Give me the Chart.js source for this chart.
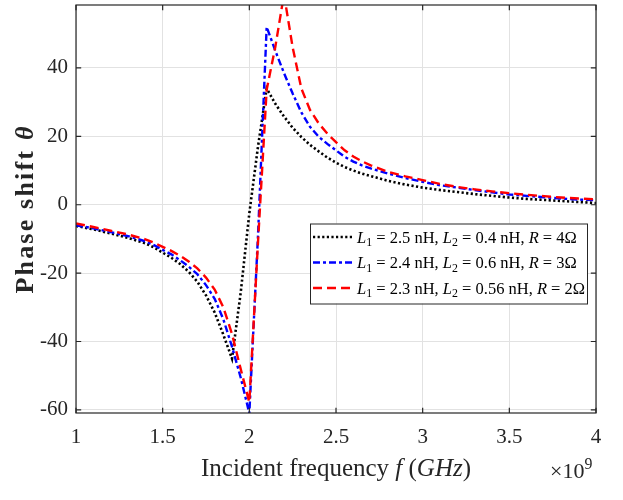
<!DOCTYPE html>
<html><head><meta charset="utf-8">
<script src="https://cdn.jsdelivr.net/npm/chart.js@4.4.1/dist/chart.umd.min.js"></script>
<style>html,body{margin:0;padding:0;background:#fff;}#wrap{width:623px;height:500px;}</style>
</head><body><div id="wrap"><canvas id="c" width="623" height="500"></canvas></div>
<script>
// ---- data ----
const freqs = [1.0,1.1,1.2,1.3,1.4,1.45,1.5,1.55,1.6,1.65,1.7,1.75,1.8,1.85,1.9,1.95,
  2.0,2.05,2.1,2.15,2.2,2.25,2.3,2.35,2.4,2.45,2.5,2.55,2.6,2.65,2.7,
  2.8,2.9,3.0,3.1,3.2,3.3,3.4,3.5,3.6,3.7,3.8,3.9,4.0];
const phaseBlack = [-6.2,-7.2,-8.4,-9.7,-11.3,-12.5,-14.0,-15.5,-17.3,-19.6,-22.5,-26.5,-31.5,-38.0,-45.0,-25.8,
  -2.5,17.0,34.0,29.5,25.8,22.5,19.8,17.5,15.6,13.8,12.3,11.0,10.0,9.1,8.4,
  7.0,5.9,5.0,4.3,3.7,3.1,2.6,2.1,1.7,1.4,1.1,0.8,0.5];
const phaseBlue = [-6.0,-6.9,-8.0,-9.2,-10.7,-11.8,-13.2,-14.5,-16.2,-18.1,-20.3,-23.5,-27.5,-33.5,-41.5,-50.5,
  -61.0,-9.0,52.0,45.0,38.5,32.5,27.0,22.8,19.9,17.8,15.9,14.0,12.6,11.5,10.6,
  9.1,7.8,6.7,5.7,5.0,4.3,3.6,3.0,2.6,2.2,1.8,1.5,1.3];
const phaseRed = [-5.5,-6.5,-7.6,-8.7,-10.1,-11.1,-12.3,-13.5,-14.9,-16.6,-18.6,-21.3,-24.8,-30.0,-37.8,-48.0,
  -57.8,-11.0,33.6,46.2,61.5,46.0,34.0,27.7,23.8,20.8,18.3,15.9,14.1,12.7,11.5,
  9.6,8.3,7.2,6.1,5.2,4.5,3.9,3.4,2.9,2.5,2.1,1.8,1.6];
const xTicks = [1,1.5,2,2.5,3,3.5,4];
const xTickLabels = ['1','1.5','2','2.5','3','3.5','4'];
const yTicks = [-60,-40,-20,0,20,40];
const yTickLabels = ['-60','-40','-20','0','20','40'];
// legend labels as rich text runs: [text, style]
const labelBlack = [['L','i'],['1','sub'],[' = 2.5 nH, ','n'],['L','i'],['2','sub'],[' = 0.4 nH, ','n'],['R','i'],[' = 4\u03A9','n']];
const labelBlue  = [['L','i'],['1','sub'],[' = 2.4 nH, ','n'],['L','i'],['2','sub'],[' = 0.6 nH, ','n'],['R','i'],[' = 3\u03A9','n']];
const labelRed   = [['L','i'],['1','sub'],[' = 2.3 nH, ','n'],['L','i'],['2','sub'],[' = 0.56 nH, ','n'],['R','i'],[' = 2\u03A9','n']];
const xTitle = [['Incident frequency ','n'],['f','i'],[' (','n'],['GHz','i'],[')','n']];
const yTitle = [['Phase shift ','b'],['\u03B8','bi']];
const xMultiplier = [['\u00D710','n'],['9','sup']];

const FONT = '"Liberation Serif", "Times New Roman", serif';
const AX = '#262626';

function runFont(style, size){
  let s = size;
  if (style==='sub'||style==='sup') s = size*0.72;
  const it = (style==='i'||style==='bi') ? 'italic ' : '';
  const b = (style==='b'||style==='bi') ? 'bold ' : '';
  return it + b + s + 'px ' + FONT;
}
function richWidth(ctx, runs, size){
  let w=0; for (const [t,st] of runs){ ctx.font = runFont(st,size); w += ctx.measureText(t).width; } return w;
}
function drawRich(ctx, runs, x, y, size, align){
  ctx.save();
  ctx.textBaseline='alphabetic'; ctx.textAlign='left';
  let w = richWidth(ctx, runs, size);
  let cx = align==='center' ? x - w/2 : (align==='right' ? x - w : x);
  for (const [t,st] of runs){
    ctx.font = runFont(st,size);
    let dy = st==='sub' ? size*0.22 : (st==='sup' ? -size*0.42 : 0);
    ctx.fillText(t, cx, y+dy);
    cx += ctx.measureText(t).width;
  }
  ctx.restore();
}

const datasets = [
  {label:'black', data: freqs.map((f,i)=>({x:f,y:phaseBlack[i]})), borderColor:'#000000', borderWidth:2.6, borderDash:[2.2,2.4], rich: labelBlack, order:2},
  {label:'blue', data: freqs.map((f,i)=>({x:f,y:phaseBlue[i]})), borderColor:'#0000ff', borderWidth:2.4, borderDash:[7,3,3,3], rich: labelBlue, order:1},
  {label:'red', data: freqs.map((f,i)=>({x:f,y:phaseRed[i]})), borderColor:'#ff0000', borderWidth:2.4, borderDash:[9,5], rich: labelRed, order:0}
];
datasets.forEach(d=>{d.pointRadius=0; d.fill=false; d.tension=0;});

const decor = {
  id:'decor',
  afterDatasetsDraw(chart){
    const ctx = chart.ctx, a = chart.chartArea;
    const xs = chart.scales.x, ys = chart.scales.y;
    ctx.save();
    ctx.strokeStyle = AX; ctx.lineWidth = 1.2;
    ctx.strokeRect(a.left, a.top, a.right-a.left, a.bottom-a.top);
    const tl = 5.2;
    ctx.beginPath();
    xTicks.forEach(v=>{ const px = xs.getPixelForValue(v);
      ctx.moveTo(px, a.bottom); ctx.lineTo(px, a.bottom-tl);
      ctx.moveTo(px, a.top); ctx.lineTo(px, a.top+tl); });
    yTicks.forEach(v=>{ const py = ys.getPixelForValue(v);
      ctx.moveTo(a.left, py); ctx.lineTo(a.left+tl, py);
      ctx.moveTo(a.right, py); ctx.lineTo(a.right-tl, py); });
    ctx.stroke();
    const lx=310, ly=223.5, lw=277, lh=80;
    ctx.fillStyle='#fff'; ctx.fillRect(lx,ly,lw,lh);
    ctx.strokeStyle=AX; ctx.lineWidth=1; ctx.strokeRect(lx+0.5,ly+0.5,lw,lh);
    const rows=[237,262.5,288];
    chart.data.datasets.forEach((d,i)=>{
      ctx.save();
      ctx.strokeStyle=d.borderColor; ctx.lineWidth=d.borderWidth; ctx.setLineDash(d.borderDash);
      ctx.beginPath(); ctx.moveTo(313, rows[i]); ctx.lineTo(352, rows[i]); ctx.stroke();
      ctx.restore();
      ctx.fillStyle='#000';
      drawRich(ctx, d.rich, 357, rows[i]+5.5, 16.5, 'left');
    });
    ctx.restore();
  },
  afterDraw(chart){
    const ctx = chart.ctx, a = chart.chartArea;
    ctx.save();
    ctx.fillStyle = AX;
    drawRich(ctx, xTitle, (a.left+a.right)/2, 476, 25, 'center');
    drawRich(ctx, xMultiplier, 550, 478, 22, 'left');
    ctx.translate(33, (a.top+a.bottom)/2);
    ctx.rotate(-Math.PI/2);
    ctx.letterSpacing = '2.2px';
    drawRich(ctx, yTitle, 0, 0, 26, 'center');
    ctx.restore();
  }
};

new Chart(document.getElementById('c'), {
  type:'line',
  data:{datasets},
  options:{
    responsive:false, animation:false, devicePixelRatio:1,
    layout:{padding:{top:5,right:27,bottom:0,left:0}},
    plugins:{legend:{display:false}, tooltip:{enabled:false}, title:{display:false}},
    scales:{
      x:{type:'linear', min:1, max:4,
        afterBuildTicks(s){ s.ticks = xTicks.map(v=>({value:v})); },
        afterFit(s){ s.height = 87; s.paddingLeft = 0; s.paddingRight = 0; },
        ticks:{ callback:(v)=>{ const i=xTicks.indexOf(v); return i>=0?xTickLabels[i]:''; },
          font:{family:FONT, size:21}, color:AX, padding:12, maxRotation:0, autoSkip:false},
        grid:{color:'#e2e2e2', lineWidth:1, drawTicks:false}, border:{display:false}
      },
      y:{type:'linear', min:-60.9, max:58.4,
        afterBuildTicks(s){ s.ticks = yTicks.map(v=>({value:v})); },
        afterFit(s){ s.width = 76; s.paddingTop = 0; s.paddingBottom = 0; },
        ticks:{ callback:(v)=>{ const i=yTicks.indexOf(v); return i>=0?yTickLabels[i]:''; },
          font:{family:FONT, size:21}, color:AX, padding:8, autoSkip:false},
        grid:{color:'#e2e2e2', lineWidth:1, drawTicks:false}, border:{display:false}
      }
    }
  },
  plugins:[decor]
});
</script></body></html>
